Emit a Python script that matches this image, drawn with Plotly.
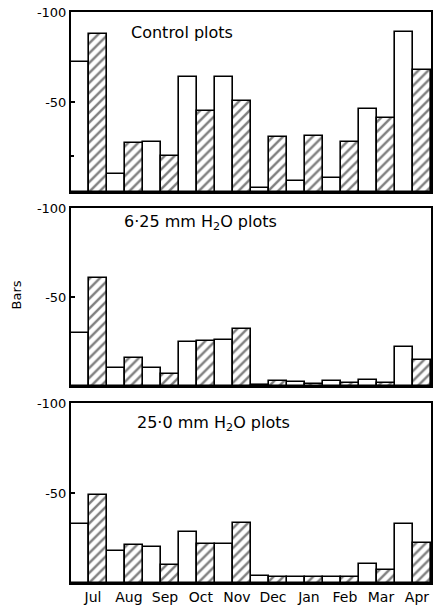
import plotly.graph_objects as go

months = ["Jul", "Aug", "Sep", "Oct", "Nov", "Dec", "Jan", "Feb", "Mar", "Apr"]

control_open = [-72, -10, -28, -64, -64, -2, -6, -8, -46, -89]
control_hatch = [-88, -27, -20, -45, -50.5, -30.5, -31, -28, -41, -67.5]

h625_open = [-30, -10, -10, -24.5, -26, -0.5, -2, -3, -3.5, -22]
h625_hatch = [-60.5, -15.5, -7, -25, -32, -3, -1, -1.5, -1.5, -14.5]

h25_open = [-33, -17.5, -20, -28.5, -21.5, -4, -3.5, -3.5, -10.5, -33]
h25_hatch = [-49, -21, -10, -21.5, -33.5, -3.5, -3.5, -3.5, -7, -22]

panel_titles = ["Control plots", "6·25 mm H<sub>2</sub>O plots", "25·0 mm H<sub>2</sub>O plots"]
y_ticks = [-100, -50]
y_ticktext = ["-100", "-50"]

panels = [(control_open, control_hatch), (h625_open, h625_hatch), (h25_open, h25_hatch)]

FONT = "DejaVu Sans, Verdana, sans-serif"

fig = go.Figure()
domains = [[0.6848, 1.0], [0.345, 0.6567], [0.0, 0.3152]]
text_pos = [(2.7, -88.5), (2.32, -92), (3.04, -88.5)]

open_x = [2 * i for i in range(len(months))]
hatch_x = [2 * i + 1 for i in range(len(months))]
month_ticks = [2 * i + 0.72 for i in range(len(months))]

layout = {}
for p, (ov, hv) in enumerate(panels):
    xa = "x" if p == 0 else f"x{p+1}"
    ya = "y" if p == 0 else f"y{p+1}"
    fig.add_trace(go.Bar(x=open_x, y=ov, width=1, xaxis=xa, yaxis=ya,
                         marker=dict(color="white", line=dict(color="black", width=1.6)),
                         showlegend=False, hoverinfo="skip"))
    fig.add_trace(go.Bar(x=hatch_x, y=hv, width=1, xaxis=xa, yaxis=ya,
                         marker=dict(color="white", line=dict(color="black", width=1.6),
                                     pattern=dict(shape="/", fgcolor="black", bgcolor="white",
                                                  size=7, solidity=0.35)),
                         showlegend=False, hoverinfo="skip"))
    xkey = "xaxis" if p == 0 else f"xaxis{p+1}"
    ykey = "yaxis" if p == 0 else f"yaxis{p+1}"
    layout[xkey] = dict(domain=[0, 1], anchor=ya, range=[-0.5, 19.5],
                        showline=True, mirror=True, linecolor="black", linewidth=2,
                        showgrid=False, zeroline=False, ticks="",
                        tickvals=month_ticks if p == 2 else [],
                        ticktext=months if p == 2 else [],
                        showticklabels=(p == 2),
                        tickfont=dict(family=FONT, size=14, color="black"))
    ydict = dict(domain=domains[p], anchor=xa, range=[0, -100],
                 showline=True, mirror=True, linecolor="black", linewidth=2,
                 showgrid=False, zeroline=False,
                 tickvals=y_ticks, ticktext=y_ticktext,
                 ticks="inside", ticklen=4, tickwidth=1.5, tickcolor="black",
                 tickfont=dict(family=FONT, size=13, color="black"))
    if p == 0:
        ydict["minor"] = dict(tickvals=[-20], ticks="inside", ticklen=3, tickwidth=1.5,
                              tickcolor="black")
    layout[ykey] = ydict
    tx, ty = text_pos[p]
    fig.add_annotation(x=tx, y=ty, xref=xa, yref=ya, text=panel_titles[p],
                       showarrow=False, xanchor="left", yanchor="middle",
                       font=dict(family=FONT, size=16, color="black"))

fig.add_annotation(x=0, y=0.5, xref="paper", yref="paper", text="Bars",
                   textangle=-90, showarrow=False, xanchor="center", yanchor="middle",
                   xshift=-55, yshift=2, font=dict(family=FONT, size=13, color="black"))

fig.update_layout(**layout)
fig.update_layout(width=433, height=606, margin=dict(l=71, r=0, t=12, b=23),
                  barmode="overlay", bargap=0, plot_bgcolor="white", paper_bgcolor="white",
                  hovermode=False)

fig.write_html("out.html", config={"displayModeBar": False},
               post_script="document.body.style.margin='0';document.body.style.overflow='hidden';")
